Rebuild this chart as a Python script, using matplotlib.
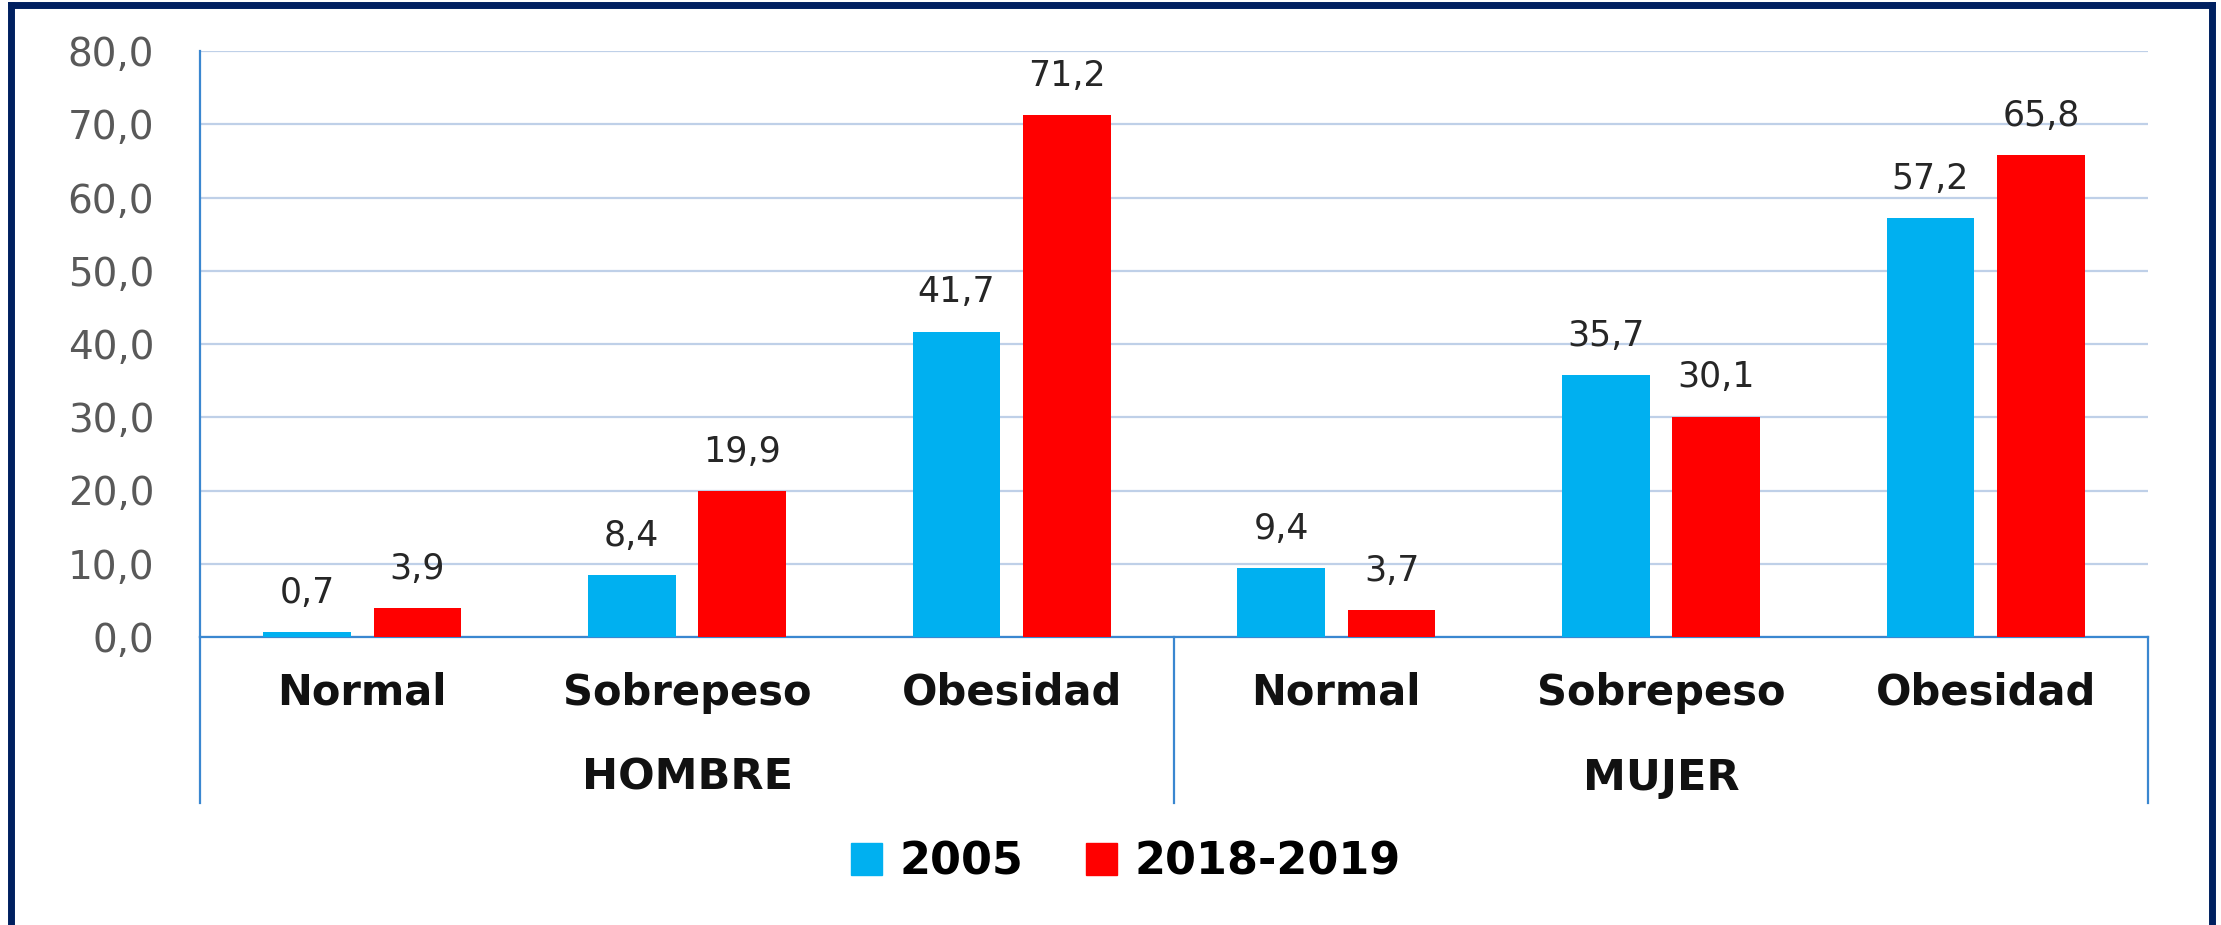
import matplotlib.pyplot as plt
from matplotlib.lines import Line2D
from matplotlib.patches import Patch
import matplotlib.transforms as mtransforms

# data
categories = ['Normal', 'Sobrepeso', 'Obesidad', 'Normal', 'Sobrepeso', 'Obesidad']
groups = ['HOMBRE', 'MUJER']
series_names = ['2005', '2018-2019']
vals_2005 = [0.7, 8.4, 41.7, 9.4, 35.7, 57.2]
vals_2018 = [3.9, 19.9, 71.2, 3.7, 30.1, 65.8]

blue = '#00B0F0'
red = '#FF0000'
axis_col = '#3A87D0'
grid_col = '#BFD0E8'

plt.rcParams['font.family'] = ['DejaVu Sans']

fig = plt.figure(figsize=(22.21, 9.25), dpi=100)
ax = fig.add_axes([200 / 2221, (925 - 637) / 925, 1948 / 2221, 586 / 925])

x = list(range(len(categories)))
w = 0.27
off = 0.17
b1 = ax.bar([i - off for i in x], vals_2005, w, color=blue, zorder=3)
b2 = ax.bar([i + off for i in x], vals_2018, w, color=red, zorder=3)

def fmt(v):
    return ('%.1f' % v).replace('.', ',')

for bars, vals in ((b1, vals_2005), (b2, vals_2018)):
    for r, v in zip(bars, vals):
        ax.annotate(fmt(v), (r.get_x() + r.get_width() / 2, v), xytext=(0, 16),
                    textcoords='offset points', ha='center', va='bottom',
                    fontsize=25, color='#262626')

ax.set_xlim(-0.5, len(categories) - 0.5)
ax.set_ylim(0, 80)
ax.set_yticks(range(0, 81, 10))
ax.set_yticklabels([fmt(t) for t in range(0, 81, 10)], fontsize=28, color='#595959')
ax.tick_params(axis='y', length=0, pad=33)
ax.yaxis.grid(True, color=grid_col, linewidth=1.6, zorder=0)
ax.set_axisbelow(True)

ax.set_xticks(x)
ax.set_xticklabels(categories, fontsize=30, fontweight='bold', color='#111111')
ax.tick_params(axis='x', length=0, pad=25)

for s in ['top', 'right']:
    ax.spines[s].set_visible(False)
ax.spines['left'].set_color(axis_col)
ax.spines['left'].set_linewidth(1.6)
ax.spines['bottom'].set_color(axis_col)
ax.spines['bottom'].set_linewidth(1.6)

# group separators and labels
trans = mtransforms.blended_transform_factory(ax.transData, ax.transAxes)
for xs in (-0.5, 2.5, 5.5):
    ax.add_line(Line2D([xs, xs], [0, -0.284], transform=trans, color=axis_col,
                       linewidth=1.6, clip_on=False))
for gi, g in enumerate(groups):
    ax.text(gi * 3 + 1, -0.24, g, transform=trans, ha='center', va='center',
            fontsize=31, fontweight='bold', color='#111111')

handles = [Patch(color=blue), Patch(color=red)]
fig.legend(handles, series_names, loc='center', bbox_to_anchor=(0.507, 0.068),
           ncol=2, frameon=False, prop={'size': 32, 'weight': 'bold'},
           handlelength=0.7, handleheight=0.7, handletextpad=0.4, columnspacing=1.4)

# outer border
bc = '#002060'
fig.add_artist(Line2D([11 / 2221, 11 / 2221], [0, 1 - 5 / 925], color=bc, linewidth=5))
fig.add_artist(Line2D([11 / 2221, 2212 / 2221], [1 - 5 / 925, 1 - 5 / 925], color=bc, linewidth=5))
fig.add_artist(Line2D([2212 / 2221, 2212 / 2221], [0, 1 - 5 / 925], color=bc, linewidth=5))

plt.savefig('out.png', dpi=100)
